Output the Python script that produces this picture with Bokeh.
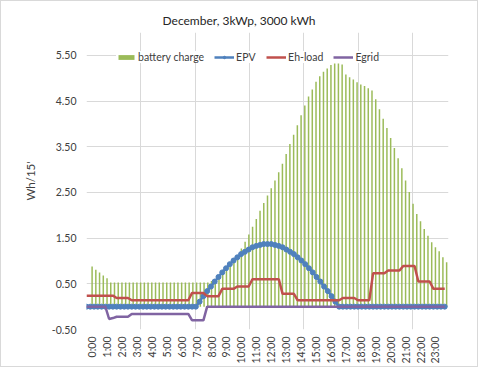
from bokeh.plotting import figure
from bokeh.models import FixedTicker, NumeralTickFormatter, Range1d, Legend, LegendItem, Title
from bokeh.embed import file_html
from bokeh.resources import INLINE

# ---- data ----
hour_labels = [f"{h}:00" for h in range(24)]

battery_charge = [
    0.88, 0.81, 0.75, 0.68, 0.62, 0.53, 0.53, 0.53, 0.53, 0.53, 0.53, 0.53,
    0.53, 0.53, 0.53, 0.53, 0.53, 0.53, 0.53, 0.53, 0.53, 0.53, 0.53, 0.53,
    0.53, 0.53, 0.53, 0.53, 0.53, 0.53, 0.53, 0.53, 0.56, 0.60, 0.65, 0.71,
    0.79, 0.89, 1.00, 1.13, 1.27, 1.42, 1.58, 1.75, 1.92, 2.10, 2.27, 2.43,
    2.59, 2.76, 2.94, 3.13, 3.34, 3.56, 3.76, 3.97, 4.19, 4.40, 4.60, 4.75,
    4.92, 5.04, 5.14, 5.21, 5.29, 5.32, 5.32, 5.30, 5.08, 5.02, 4.97, 4.91,
    4.86, 4.83, 4.78, 4.73, 4.54, 4.32, 4.11, 3.91, 3.69, 3.47, 3.25, 3.03,
    2.76, 2.51, 2.25, 2.03, 1.87, 1.70, 1.55, 1.41, 1.30, 1.21, 1.08, 0.97,
]

epv = [
    0, 0, 0, 0, 0, 0, 0, 0, 0, 0, 0, 0,
    0, 0, 0, 0, 0, 0, 0, 0, 0, 0, 0, 0,
    0, 0, 0, 0, 0, 0.00, 0.11, 0.23, 0.34, 0.44, 0.55, 0.65,
    0.75, 0.84, 0.93, 1.01, 1.08, 1.15, 1.20, 1.25, 1.30, 1.33, 1.35, 1.37,
    1.37, 1.37, 1.35, 1.33, 1.30, 1.25, 1.20, 1.15, 1.08, 1.01, 0.93, 0.84,
    0.75, 0.65, 0.55, 0.44, 0.34, 0.23, 0.11, 0.00, 0, 0, 0, 0,
    0, 0, 0, 0, 0, 0, 0, 0, 0, 0, 0, 0,
    0, 0, 0, 0, 0, 0, 0, 0, 0, 0, 0, 0,
]

eh_load = (
    [0.24] * 8 + [0.19] * 4 + [0.14] * 16 + [0.30] * 4 + [0.23] * 4 +
    [0.39] * 4 + [0.44] * 4 + [0.60] * 8 + [0.28] * 4 + [0.14] * 12 +
    [0.19] * 4 + [0.14] * 4 + [0.73] * 4 + [0.79] * 4 + [0.89] * 4 +
    [0.55] * 4 + [0.39] * 4
)

egrid = (
    [0.0] * 6 + [-0.27, -0.25] + [-0.22] * 4 + [-0.16] * 16 +
    [-0.30] * 4 + [0.0] * 64
)

y_ticks = [-0.5, 0.5, 1.5, 2.5, 3.5, 4.5, 5.5]

# ---- geometry of the two horizontal scales ----
n = len(battery_charge)          # 96 quarter hours
n_cat = n + 1                    # category axis has one leading empty slot
bar_x = [i + 1.5 for i in range(n)]
line_x = [i * n_cat / n for i in range(n)]
hour_pos = [4 * h + 1.5 for h in range(24)]
vgrid_pos = [k * 0.15 * n_cat for k in range(7)]

FONT = "Lato"
TXT = "#404040"

p = figure(width=478, height=367, output_backend="svg", toolbar_location=None,
           x_range=Range1d(0, n_cat), y_range=Range1d(-0.5, 6.0),
           min_border_left=85, min_border_right=31, min_border_top=31,
           min_border_bottom=39)
p.styles = {"border": "1px solid #D9D9D9"}
p.outline_line_color = None
p.background_fill_color = "white"
p.border_fill_color = "white"

t = Title(text="December, 3kWp, 3000 kWh", align="left", offset=76,
          text_font=FONT, text_font_size="12px", text_font_style="normal",
          text_color="#262626", standoff=9)
p.add_layout(t, "above")

bars = p.vbar(x=bar_x, top=battery_charge, bottom=0, width=0.4,
              color="#9BBB59", line_color=None)
l_epv = p.line(line_x, epv, line_width=2.5, color="#4F81BD")
s_epv = p.scatter(line_x, epv, marker="circle", size=5, color="#4F81BD")
l_load = p.line(line_x, eh_load, line_width=2.5, color="#C0504D")
l_grid = p.line(line_x, egrid, line_width=2.5, color="#8064A2")

# axes
p.yaxis.ticker = FixedTicker(ticks=y_ticks)
p.yaxis.formatter = NumeralTickFormatter(format="0.00")
p.yaxis.axis_line_color = None
p.yaxis.major_tick_line_color = None
p.yaxis.minor_tick_line_color = None
p.yaxis.major_tick_out = 0
p.yaxis.major_label_standoff = 10
p.yaxis.major_label_text_font = FONT
p.yaxis.major_label_text_font_size = "10.5px"
p.yaxis.major_label_text_color = TXT
p.yaxis.axis_label = "Wh/15'"
p.yaxis.axis_label_text_font = FONT
p.yaxis.axis_label_text_font_size = "11.5px"
p.yaxis.axis_label_text_font_style = "normal"
p.yaxis.axis_label_text_color = TXT
p.yaxis.axis_label_standoff = 12

p.xaxis.ticker = FixedTicker(ticks=hour_pos)
p.xaxis.major_label_overrides = {pos: lab for pos, lab in zip(hour_pos, hour_labels)}
p.xaxis.major_label_orientation = 1.5707963
p.xaxis.axis_line_color = None
p.xaxis.major_tick_line_color = None
p.xaxis.minor_tick_line_color = None
p.xaxis.major_tick_out = 0
p.xaxis.major_label_standoff = 7
p.xaxis.major_label_text_font = FONT
p.xaxis.major_label_text_font_size = "10.5px"
p.xaxis.major_label_text_color = TXT

p.ygrid.ticker = FixedTicker(ticks=y_ticks)
p.ygrid.grid_line_color = "#D9D9D9"
p.xgrid.ticker = FixedTicker(ticks=vgrid_pos)
p.xgrid.grid_line_color = "#D9D9D9"

legend = Legend(items=[
    LegendItem(label="battery charge", renderers=[bars]),
    LegendItem(label="EPV", renderers=[l_epv, s_epv]),
    LegendItem(label="Eh-load", renderers=[l_load]),
    LegendItem(label="Egrid", renderers=[l_grid]),
], orientation="horizontal", location=(30, 266))
legend.background_fill_color = "white"
legend.background_fill_alpha = 1.0
legend.border_line_color = None
legend.padding = 2
legend.margin = 0
legend.spacing = 10
legend.label_standoff = 2
legend.glyph_width = 20
legend.glyph_height = 6
legend.label_height = 12
legend.label_text_font = FONT
legend.label_text_font_size = "10.5px"
legend.label_text_color = TXT
p.add_layout(legend)

open("out.html", "w").write(file_html(p, INLINE))
